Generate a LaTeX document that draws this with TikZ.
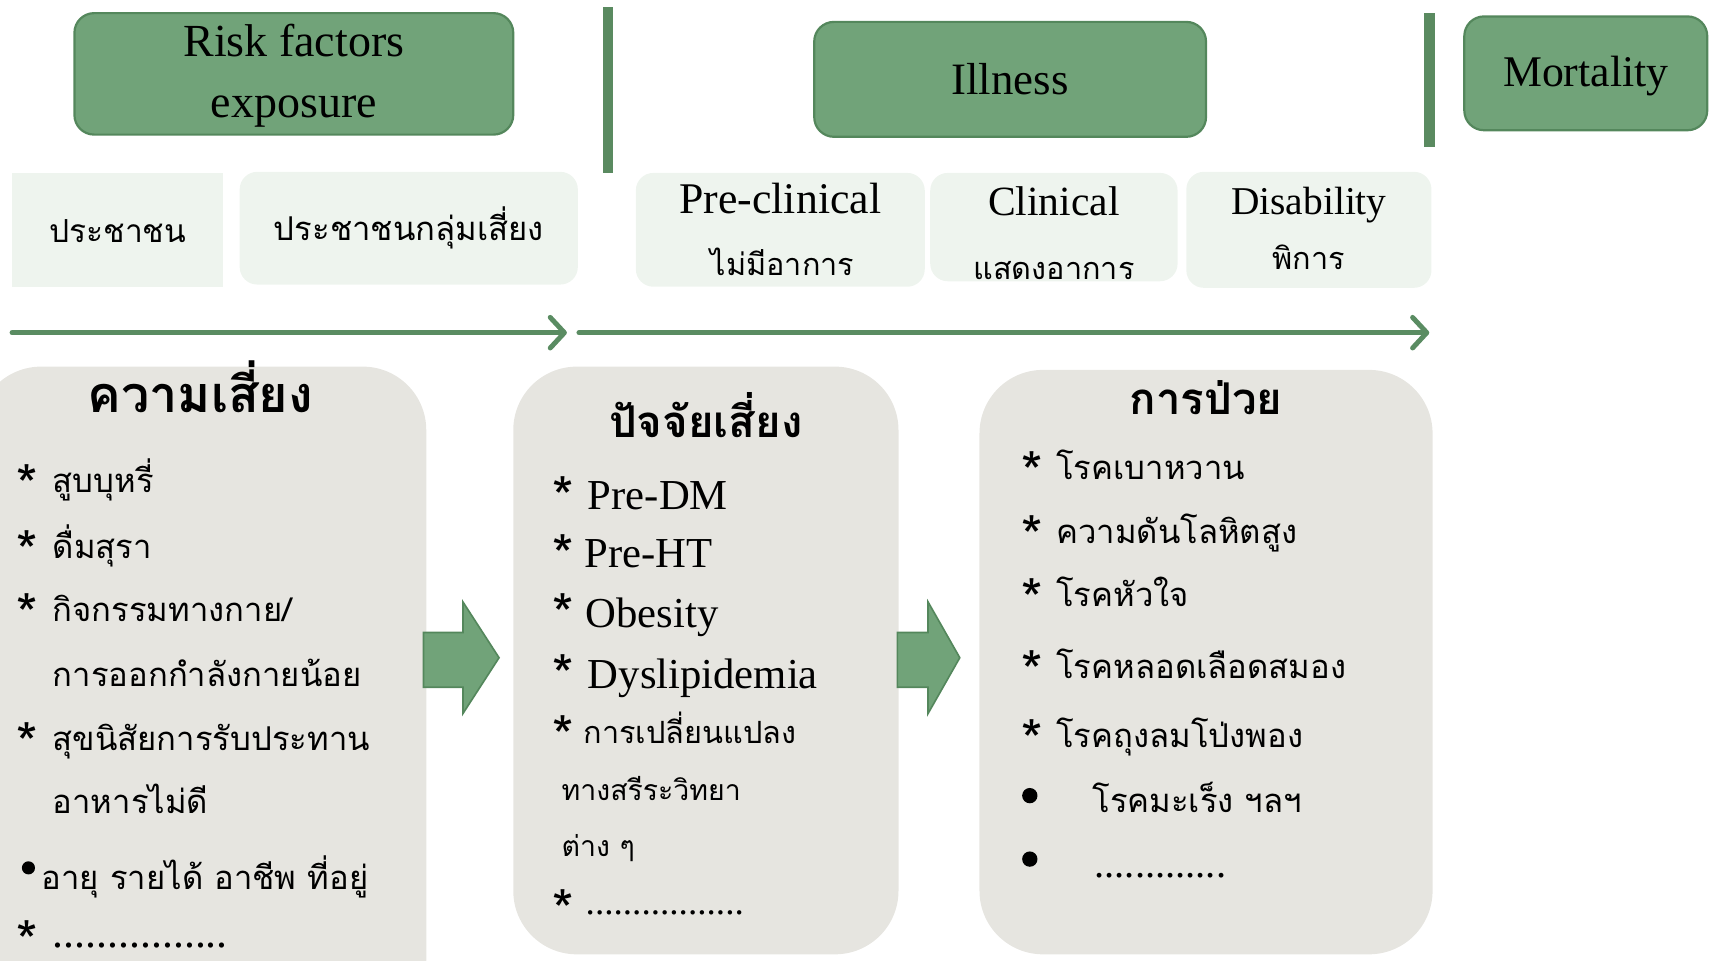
\documentclass[tikz,border=0pt]{standalone}
\usepackage{fontspec}
\setmainfont{Liberation Serif}
\newfontfamily\thai[Script=Thai]{Loma}
\usetikzlibrary{arrows.meta}
\definecolor{topgreen}{RGB}{113,163,121}
\definecolor{boxedge}{RGB}{84,135,92}
\definecolor{bargreen}{RGB}{90,138,96}
\definecolor{lightfill}{RGB}{238,244,238}
\definecolor{grayfill}{RGB}{230,229,224}
\definecolor{linegreen}{RGB}{90,140,98}
\newcommand{\fs}[1]{\fontsize{#1}{#1}\selectfont}
\newcommand{\bigast}[2]{\makebox[#1][l]{\smash{\raisebox{#2}{\thai\fs{50}*}}}}
\begin{document}
\begin{tikzpicture}[x=1pt,y=-1pt,
  topbox/.style={draw=boxedge, line width=2pt, fill=topgreen, rounded corners=18pt, inner sep=0pt},
  lightbox/.style={fill=lightfill, rounded corners=16pt, inner sep=0pt},
  graybox/.style={fill=grayfill, rounded corners=58pt, inner sep=0pt},
  bar/.style={fill=bargreen, inner sep=0pt},
  lbl/.style={inner sep=0pt, anchor=base},
  itm/.style={inner sep=0pt, anchor=base west},
  thsub/.style={font=\thai\fs{28}},
  thitem/.style={font=\thai\fs{30}},
  latitem/.style={font=\fs{39}},
  thhead/.style={font=\thai\bfseries\fs{40}},
  timeline/.style={draw=linegreen, line width=4.5pt, line cap=round, -{Straight Barb[length=13pt,width=28pt,round]}},
  blockarrow/.style={fill=topgreen, draw=boxedge, line width=1.5pt, line join=miter}
]
\useasboundingbox (0,0) rectangle (1568,878);
\clip (0,0) rectangle (1568,878);

% top row
\node[topbox, minimum width=401pt, minimum height=111pt] (risk) at (268.5,67.5) {};
\node[topbox, minimum width=358pt, minimum height=105pt] (ill) at (923,72.5) {};
\node[topbox, minimum width=222pt, minimum height=104pt] (mort) at (1449,67) {};
\node[bar, minimum width=9pt, minimum height=152pt] (bar1) at (555.5,82) {};
\node[bar, minimum width=10pt, minimum height=122pt] (bar2) at (1306,73) {};

\node[lbl, font=\fs{42}] (riskA) at (268.5,52) {Risk factors};
\node[lbl, font=\fs{42}] (riskB) at (268.5,107) {exposure};
\node[lbl, font=\fs{41}] (illT) at (923,86) {Illness};
\node[lbl, font=\fs{40}] (mortT) at (1449,79) {Mortality};

% second row
\node[fill=lightfill, inner sep=0pt, minimum width=193pt, minimum height=104pt] (pop) at (107.5,210) {};
\node[lightbox, minimum width=309pt, minimum height=103pt] (riskgrp) at (373.5,208.5) {};
\node[lightbox, minimum width=264pt, minimum height=104pt] (pre) at (713,210) {};
\node[lightbox, minimum width=226pt, minimum height=99pt] (clin) at (963,207.5) {};
\node[lightbox, minimum width=224pt, minimum height=106pt] (dis) at (1196,210) {};

\node[lbl, font=\thai\fs{29}] (popT) at (107.5,222) {ประชาชน};
\node[lbl, font=\thai\fs{30}] (riskgrpT) at (373.5,220) {ประชาชนกลุ่มเสี่ยง};
\node[lbl, font=\fs{40}] (preA) at (713,195) {Pre-clinical};
\node[lbl, thsub] (preB) at (715,252) {ไม่มีอาการ};
\node[lbl, font=\fs{38}] (clinA) at (963,197) {Clinical};
\node[lbl, thsub] (clinB) at (963,255) {แสดงอาการ};
\node[lbl, font=\fs{36}] (disA) at (1196,196) {Disability};
\node[lbl, thsub] (disB) at (1196,246) {พิการ};

% timelines
\coordinate (t1s) at (11,304);
\coordinate (t1e) at (518,304);
\coordinate (t2s) at (529,304);
\coordinate (t2e) at (1306,304);
\draw[timeline] (t1s) -- (t1e);
\draw[timeline] (t2s) -- (t2e);

% big boxes
\node[graybox, minimum width=410pt, minimum height=600pt] (b1) at (184.5,635) {};
\node[graybox, minimum width=352pt, minimum height=537pt] (b2) at (645,603.5) {};
\node[graybox, minimum width=414pt, minimum height=534pt] (b3) at (1102,605) {};

% block arrows
\draw[blockarrow] (387,578) -- (423,578) -- (423,550) -- (456,601) -- (423,652) -- (423,628) -- (387,628) -- cycle;
\draw[blockarrow] (820,578) -- (848,578) -- (848,550) -- (877,601) -- (848,652) -- (848,628) -- (820,628) -- cycle;

% box 1
\node[lbl, font=\thai\bfseries\fs{46}] (h1) at (183,377) {ความเสี่ยง};
\node[itm, thitem] (a1) at (15,450) {\bigast{33pt}{-11pt}สูบบุหรี่};
\node[itm, thitem] (a2) at (15,510) {\bigast{33pt}{-11pt}ดื่มสุรา};
\node[itm, thitem] (a3) at (15,568) {\bigast{33pt}{-11pt}กิจกรรมทางกาย/};
\node[itm, thitem] (a4) at (48,627) {การออกกำลังกายน้อย};
\node[itm, thitem] (a5) at (15,686) {\bigast{33pt}{-11pt}สุขนิสัยการรับประทาน};
\node[itm, thitem] (a6) at (48,743) {อาหารไม่ดี};
\fill (26,793) circle (6);
\node[itm, thitem] (a7) at (38,813) {อายุ รายได้ อาชีพ ที่อยู่};
\node[itm, thitem] (a8) at (15,866) {\bigast{33pt}{-12pt}{\rmfamily\fs{40}................}};

% box 2
\node[lbl, thhead] (h2) at (645,400) {ปัจจัยเสี่ยง};
\node[itm, latitem] (c1) at (505,466) {\bigast{32pt}{-6pt}Pre-DM};
\node[itm, latitem] (c2) at (505,519) {\bigast{29pt}{-6pt}Pre-HT};
\node[itm, latitem] (c3) at (505,573) {\bigast{30pt}{-6pt}Obesity};
\node[itm, latitem] (c4) at (505,629) {\bigast{32pt}{-6pt}Dyslipidemia};
\node[itm, font=\thai\fs{28}] (c5) at (505,679) {\bigast{28pt}{-11pt}การเปลี่ยนแปลง};
\node[itm, font=\thai\fs{26}] (c6) at (513,731) {ทางสรีระวิทยา};
\node[itm, font=\thai\fs{26}] (c7) at (513,783) {ต่าง ๆ};
\node[itm, font=\fs{34}] (c8) at (505,836) {\bigast{30pt}{-13pt}.................};

% box 3
\node[lbl, thhead] (h3) at (1102,379) {การป่วย};
\node[itm, thitem] (d1) at (933,438) {\bigast{32pt}{-11pt}โรคเบาหวาน};
\node[itm, thitem] (d2) at (933,497) {\bigast{32pt}{-11pt}ความดันโลหิตสูง};
\node[itm, thitem] (d3) at (933,554) {\bigast{32pt}{-11pt}โรคหัวใจ};
\node[itm, thitem] (d4) at (933,620) {\bigast{32pt}{-11pt}โรคหลอดเลือดสมอง};
\node[itm, thitem] (d5) at (933,683) {\bigast{32pt}{-11pt}โรคถุงลมโป่งพอง};
\fill (941,727) circle (7);
\node[itm, thitem] (d6) at (998,742) {โรคมะเร็ง ฯลฯ};
\fill (941,785) circle (7);
\node[itm, font=\fs{37}] (d7) at (1000,802) {.............};
\end{tikzpicture}
\end{document}
